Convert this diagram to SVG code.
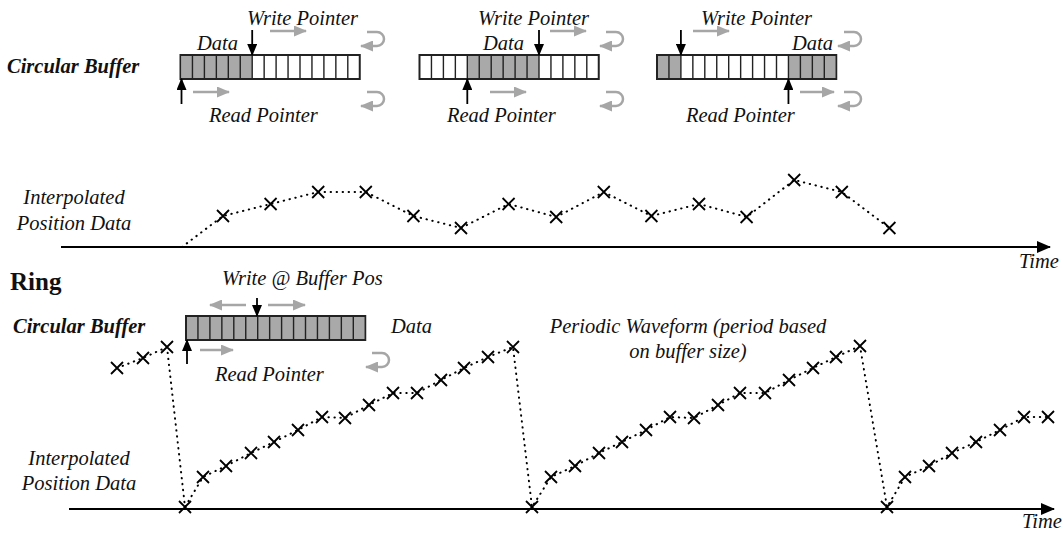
<svg xmlns="http://www.w3.org/2000/svg" xmlns:xlink="http://www.w3.org/1999/xlink" width="1064" height="537" viewBox="0 0 1064 537">
<style>
.t{font-family:"Liberation Serif","Times New Roman",serif;font-style:italic;font-size:20.5px;fill:#111}
.tb{font-weight:bold}
.ring{font-family:"Liberation Serif","Times New Roman",serif;font-weight:bold;font-size:25px;fill:#111}
.box{fill:#fff;stroke:#222;stroke-width:2}
.dat{fill:#a9a9a9}
.div{stroke:#222;stroke-width:1.4;fill:none}
.ptr{stroke:#000;stroke-width:1.8;fill:none;marker-end:url(#bh)}
.g{stroke:#a6a6a6;stroke-width:2.5;fill:none;marker-end:url(#gh)}
.axis{stroke:#000;stroke-width:2;fill:none;marker-end:url(#ax)}
.dots{stroke:#000;stroke-width:2;stroke-dasharray:0.4 5.6;stroke-linecap:round;fill:none}
.xm{stroke:#000;stroke-width:1.8;fill:none}
</style>
<defs>
<marker id="bh" viewBox="0 0 12 10" refX="11" refY="5" markerWidth="12" markerHeight="10" markerUnits="userSpaceOnUse" orient="auto"><path d="M0,0 L12,5 L0,10 z" fill="#000"/></marker>
<marker id="gh" viewBox="0 0 13 11" refX="12" refY="5.5" markerWidth="13" markerHeight="11" markerUnits="userSpaceOnUse" orient="auto"><path d="M0,0 L13,5.5 L0,11 z" fill="#a6a6a6"/></marker>
<marker id="ax" viewBox="0 0 14 12" refX="13" refY="6" markerWidth="14" markerHeight="12" markerUnits="userSpaceOnUse" orient="auto"><path d="M0,0 L14,6 L0,12 z" fill="#000"/></marker>
<path id="x" class="xm" d="M-6,-6 L6,6 M6,-6 L-6,6"/>
</defs>

<g id="labels">
<text class="t tb" x="7" y="73">Circular Buffer</text>
<text class="t" x="74" y="204" text-anchor="middle">Interpolated</text>
<text class="t" x="74" y="230" text-anchor="middle">Position Data</text>
<text class="t" x="1019" y="268">Time</text>
<text class="ring" x="10" y="290">Ring</text>
<text class="t tb" x="13" y="333">Circular Buffer</text>
<text class="t" x="688" y="333" text-anchor="middle">Periodic Waveform (period based</text>
<text class="t" x="688" y="358" text-anchor="middle">on buffer size)</text>
<text class="t" x="79" y="465" text-anchor="middle">Interpolated</text>
<text class="t" x="79" y="490" text-anchor="middle">Position Data</text>
<text class="t" x="1022" y="528">Time</text>
</g>

<g id="buffer1">
<rect class="box" x="180.5" y="55" width="179.25" height="24"/>
<rect class="dat" x="181.5" y="56" width="70.7" height="22"/>
<path class="div" d="M192.45,55v24M204.4,55v24M216.35,55v24M228.3,55v24M240.25,55v24M252.2,55v24M264.15,55v24M276.1,55v24M288.05,55v24M300,55v24M311.95,55v24M323.9,55v24M335.85,55v24M347.8,55v24"/>
<text class="t" x="247" y="25">Write Pointer</text>
<text class="t" x="197" y="50">Data</text>
<text class="t" x="209" y="122">Read Pointer</text>
</g>

<g id="buffer2">
<rect class="box" x="419.5" y="55" width="179.25" height="24"/>
<rect class="dat" x="467.3" y="56" width="71.7" height="22"/>
<path class="div" d="M431.45,55v24M443.4,55v24M455.35,55v24M467.3,55v24M479.25,55v24M491.2,55v24M503.15,55v24M515.1,55v24M527.05,55v24M539,55v24M550.95,55v24M562.9,55v24M574.85,55v24M586.8,55v24"/>
<text class="t" x="478" y="25">Write Pointer</text>
<text class="t" x="483" y="50">Data</text>
<text class="t" x="447" y="122">Read Pointer</text>
</g>

<g id="buffer3">
<rect class="box" x="657" y="55" width="179.25" height="24"/>
<rect class="dat" x="658" y="56" width="22.9" height="22"/>
<rect class="dat" x="788.45" y="56" width="46.8" height="22"/>
<path class="div" d="M668.95,55v24M680.9,55v24M692.85,55v24M704.8,55v24M716.75,55v24M728.7,55v24M740.65,55v24M752.6,55v24M764.55,55v24M776.5,55v24M788.45,55v24M800.4,55v24M812.35,55v24M824.3,55v24"/>
<text class="t" x="701" y="25">Write Pointer</text>
<text class="t" x="792" y="50">Data</text>
<text class="t" x="686" y="122">Read Pointer</text>
</g>

<g id="ringbuffer">
<rect class="box" x="186" y="316" width="179.25" height="24"/>
<rect class="dat" x="187" y="317" width="177.25" height="22"/>
<path class="div" d="M197.95,316v24M209.9,316v24M221.85,316v24M233.8,316v24M245.75,316v24M257.7,316v24M269.65,316v24M281.6,316v24M293.55,316v24M305.5,316v24M317.45,316v24M329.4,316v24M341.35,316v24M353.3,316v24"/>
<text class="t" x="222" y="285">Write @ Buffer Pos</text>
<text class="t" x="391" y="333">Data</text>
<text class="t" x="215" y="381">Read Pointer</text>
</g>

<g id="connectors">
<line class="ptr" x1="252.2" y1="30" x2="252.2" y2="55"/>
<line class="ptr" x1="181.5" y1="104" x2="181.5" y2="79"/>
<line class="g" x1="270" y1="31" x2="306" y2="31"/>
<line class="g" x1="193" y1="92" x2="229" y2="92"/>
<path class="g" d="M367,32 H377 A7,7 0 0 1 377,46 H361"/>
<path class="g" d="M367,92 H377 A7,7 0 0 1 377,106 H361"/>
<line class="ptr" x1="539" y1="30" x2="539" y2="55"/>
<line class="ptr" x1="467.3" y1="104" x2="467.3" y2="79"/>
<line class="g" x1="550" y1="31" x2="586" y2="31"/>
<line class="g" x1="490" y1="92" x2="526" y2="92"/>
<path class="g" d="M606,32 H616 A7,7 0 0 1 616,46 H600"/>
<path class="g" d="M606,92 H616 A7,7 0 0 1 616,106 H600"/>
<line class="ptr" x1="680.9" y1="30" x2="680.9" y2="55"/>
<line class="ptr" x1="788.45" y1="104" x2="788.45" y2="79"/>
<line class="g" x1="693" y1="31" x2="729" y2="31"/>
<line class="g" x1="800" y1="92" x2="834" y2="92"/>
<path class="g" d="M844,32 H854 A7,7 0 0 1 854,46 H838"/>
<path class="g" d="M844,92 H854 A7,7 0 0 1 854,106 H838"/>
<line class="ptr" x1="257" y1="298" x2="257" y2="316"/>
<line class="ptr" x1="187" y1="364" x2="187" y2="340"/>
<line class="g" x1="246" y1="305" x2="210" y2="305"/>
<line class="g" x1="268" y1="305" x2="305" y2="305"/>
<line class="g" x1="200" y1="350" x2="233" y2="350"/>
<path class="g" d="M372,353 H382 A7,7 0 0 1 382,367 H366"/>
<line class="axis" x1="61" y1="247" x2="1050" y2="247"/>
<line class="axis" x1="69" y1="509" x2="1054" y2="509"/>
<polyline class="dots" points="182,247 223,216 270.6,204 318.2,192 365.8,192 413.4,216 461,228 508.6,204 556.2,217 603.8,192 651.4,216 699,204 746.6,217 794.2,180 841.8,192 889.4,228"/>
<polyline class="dots" points="117,368 143,358 167,347 185,507 203,477 226,466 251,453 274,442 298,430 322,417 345,418 369,405 393,393 417,393 441,380 464,368 488,357 513,347 532,507 551,477 575,466 599,453 622,442 646,430 670,417 694,418 718,405 740,393 765,393 789,380 813,368 836,357 860,346 887,507 905,477 929,466 952,453 976,442 1000,430 1024,417 1048,417"/>
</g>

<g id="samples1">
<use href="#x" x="223" y="216"/><use href="#x" x="270.6" y="204"/><use href="#x" x="318.2" y="192"/><use href="#x" x="365.8" y="192"/>
<use href="#x" x="413.4" y="216"/><use href="#x" x="461" y="228"/><use href="#x" x="508.6" y="204"/><use href="#x" x="556.2" y="217"/>
<use href="#x" x="603.8" y="192"/><use href="#x" x="651.4" y="216"/><use href="#x" x="699" y="204"/><use href="#x" x="746.6" y="217"/>
<use href="#x" x="794.2" y="180"/><use href="#x" x="841.8" y="192"/><use href="#x" x="889.4" y="228"/>
</g>

<g id="samples2">
<use href="#x" x="117" y="368"/><use href="#x" x="143" y="358"/><use href="#x" x="167" y="347"/>
<use href="#x" x="185" y="507"/><use href="#x" x="203" y="477"/><use href="#x" x="226" y="466"/><use href="#x" x="251" y="453"/>
<use href="#x" x="274" y="442"/><use href="#x" x="298" y="430"/><use href="#x" x="322" y="417"/><use href="#x" x="345" y="418"/>
<use href="#x" x="369" y="405"/><use href="#x" x="393" y="393"/><use href="#x" x="417" y="393"/><use href="#x" x="441" y="380"/>
<use href="#x" x="464" y="368"/><use href="#x" x="488" y="357"/><use href="#x" x="513" y="347"/>
<use href="#x" x="532" y="507"/><use href="#x" x="551" y="477"/><use href="#x" x="575" y="466"/><use href="#x" x="599" y="453"/>
<use href="#x" x="622" y="442"/><use href="#x" x="646" y="430"/><use href="#x" x="670" y="417"/><use href="#x" x="694" y="418"/>
<use href="#x" x="718" y="405"/><use href="#x" x="740" y="393"/><use href="#x" x="765" y="393"/><use href="#x" x="789" y="380"/>
<use href="#x" x="813" y="368"/><use href="#x" x="836" y="357"/><use href="#x" x="860" y="346"/>
<use href="#x" x="887" y="507"/><use href="#x" x="905" y="477"/><use href="#x" x="929" y="466"/><use href="#x" x="952" y="453"/>
<use href="#x" x="976" y="442"/><use href="#x" x="1000" y="430"/><use href="#x" x="1024" y="417"/><use href="#x" x="1048" y="417"/>
</g>
</svg>
